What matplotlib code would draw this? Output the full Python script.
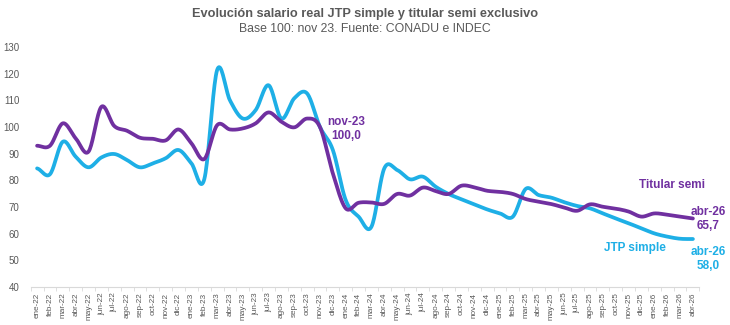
import numpy as np
import matplotlib
matplotlib.use('Agg')
import matplotlib.pyplot as plt

plt.rcParams['font.family'] = ['Liberation Sans', 'DejaVu Sans']

meses = ['ene', 'feb', 'mar', 'abr', 'may', 'jun', 'jul', 'ago', 'sep', 'oct', 'nov', 'dic']
etiquetas = []
for anio in ['22', '23', '24', '25', '26']:
    for m in meses:
        etiquetas.append(m + '-' + anio)
etiquetas = etiquetas[:52]  # ene-22 .. abr-26

jtp_simple = [84.5, 82.3, 94.5, 88.9, 84.9, 88.6, 89.9, 87.6, 84.9, 86.4, 88.3, 91.4,
              86.4, 80.4, 121.4, 110.0, 103.2, 106.4, 115.7, 103.2, 110.8, 112.6, 100.0, 91.4,
              72.6, 66.4, 62.6, 84.5, 83.9, 80.4, 81.4, 77.6, 74.9, 72.9, 71.0, 69.1,
              67.6, 66.4, 76.8, 74.5, 73.5, 71.8, 70.4, 69.5, 67.6, 65.7, 63.9, 62.0,
              60.1, 58.9, 58.1, 58.0]
titular_semi = [93.0, 93.0, 101.4, 95.8, 90.8, 107.6, 100.4, 98.6, 96.0, 95.6, 95.0, 99.1,
                93.9, 88.0, 100.7, 99.1, 99.5, 101.4, 105.5, 102.0, 99.9, 103.2, 100.0, 82.6,
                69.5, 71.6, 71.7, 71.2, 74.9, 74.3, 77.3, 76.0, 74.9, 78.0, 77.4, 76.1,
                75.7, 74.9, 73.0, 72.0, 71.1, 69.8, 68.6, 71.0, 70.1, 69.4, 68.3, 66.4,
                67.6, 67.1, 66.4, 65.7]

azul = '#1EAFE6'
violeta = '#7030A0'
gris = '#595959'


def suavizar(y, n=20):
    # curva tipo Excel (Catmull-Rom) que pasa por cada punto
    y = np.asarray(y, dtype=float)
    p = np.concatenate([[y[0]], y, [y[-1]]])
    xs, ys = [], []
    for i in range(len(y) - 1):
        p0, p1, p2, p3 = p[i], p[i + 1], p[i + 2], p[i + 3]
        t = np.linspace(0, 1, n, endpoint=False)
        yy = 0.5 * ((2 * p1) + (-p0 + p2) * t + (2 * p0 - 5 * p1 + 4 * p2 - p3) * t ** 2
                    + (-p0 + 3 * p1 - 3 * p2 + p3) * t ** 3)
        xs.extend(i + t)
        ys.extend(yy)
    xs.append(len(y) - 1)
    ys.append(y[-1])
    return np.array(xs), np.array(ys)


fig = plt.figure(figsize=(7.3, 3.25), dpi=100)
ax = fig.add_axes([0.042, 0.117, 0.916, 0.738])

x1, y1 = suavizar(jtp_simple)
x2, y2 = suavizar(titular_semi)
ax.plot(x1, y1, color=azul, lw=2.7, solid_capstyle='round', zorder=2)
ax.plot(x2, y2, color=violeta, lw=2.7, solid_capstyle='round', zorder=3)

ax.set_xlim(-0.5, len(etiquetas) - 0.5)
ax.set_ylim(40, 130)
ax.set_yticks(range(40, 131, 10))
ax.set_xticks(range(len(etiquetas)))
ax.set_xticklabels(etiquetas, rotation=90, fontsize=5.9, color=gris)
ax.tick_params(axis='y', length=0, labelsize=7, colors=gris, pad=8)
ax.tick_params(axis='x', length=0, pad=4)
ax.set_xticks(np.arange(-0.5, len(etiquetas), 1), minor=True)
ax.tick_params(axis='x', which='minor', length=3, color='#D9D9D9')
for s in ['top', 'right', 'left']:
    ax.spines[s].set_visible(False)
ax.spines['bottom'].set_color('#D9D9D9')

fig.text(0.5, 0.957, 'Evolución salario real JTP simple y titular semi exclusivo',
         ha='center', va='center', fontsize=9.2, fontweight='bold', color=gris)
fig.text(0.5, 0.91, 'Base 100: nov 23. Fuente: CONADU e INDEC',
         ha='center', va='center', fontsize=8.8, color=gris)

# etiquetas de datos
tr = fig.transFigure
def px(x, y):
    return x / 730.0, 1 - y / 325.0

fig.text(*px(346, 129), 'nov-23\n100,0', transform=tr, ha='center', va='center',
         fontsize=8.5, fontweight='bold', color=violeta, linespacing=1.2)
fig.text(*px(672, 185), 'Titular semi', transform=tr, ha='center', va='center',
         fontsize=8.5, fontweight='bold', color=violeta)
fig.text(*px(708, 219), 'abr-26\n65,7', transform=tr, ha='center', va='center',
         fontsize=8.5, fontweight='bold', color=violeta, linespacing=1.2)
fig.text(*px(635, 248), 'JTP simple', transform=tr, ha='center', va='center',
         fontsize=8.5, fontweight='bold', color=azul)
fig.text(*px(708, 259), 'abr-26\n58,0', transform=tr, ha='center', va='center',
         fontsize=8.5, fontweight='bold', color=azul, linespacing=1.2)

fig.savefig('out.png', dpi=100)
